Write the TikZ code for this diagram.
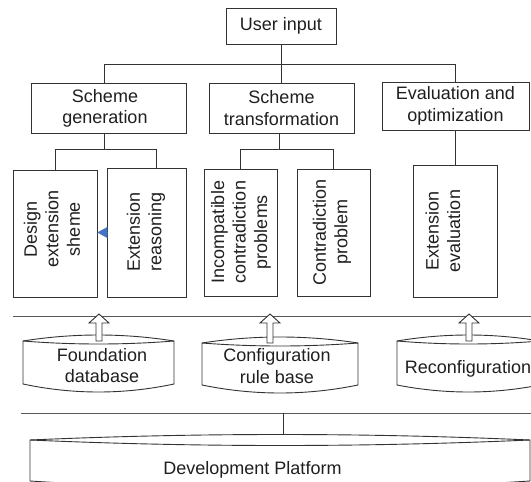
\documentclass[tikz,border=0pt]{standalone}
\usepackage{fontspec}
\setmainfont{Liberation Sans}
\usetikzlibrary{arrows.meta,calc}
\definecolor{tri}{RGB}{68,114,196}
% cylinder outline: x1 x2 ytop ybottom upperbulge lowerbulge bottombulge
\newcommand\mycyl[7]{%
  \draw[ln, fill=white] (#1,#3) .. controls ({#1+(#2-#1)/3},{#3-#5*4/3}) and ({#2-(#2-#1)/3},{#3-#5*4/3}) .. (#2,#3)
     -- (#2,#4) .. controls ({#2-(#2-#1)/3},{#4+#7*4/3}) and ({#1+(#2-#1)/3},{#4+#7*4/3}) .. (#1,#4) -- cycle;
  \draw[ln] (#1,#3) .. controls ({#1+(#2-#1)/3},{#3+#6*4/3}) and ({#2-(#2-#1)/3},{#3+#6*4/3}) .. (#2,#3);}
% hollow up arrow: x, bottom y
\newcommand\hollowup[2]{%
  \draw[ln, fill=white] ({#1-3},#2) -- ({#1-3},323) -- ({#1-10},323) -- (#1,314) -- ({#1+10},323) -- ({#1+3},323) -- ({#1+3},#2) -- cycle;}
\begin{document}
\begin{tikzpicture}[x=1pt,y=-1pt,
  ln/.style={draw=black!80, line width=0.9pt},
  sep/.style={draw=black!65, line width=0.9pt},
  box/.style={ln, rectangle, inner sep=0pt},
  txt/.style={font=\fontsize{18}{21.5}\selectfont, text=black!88, align=center, inner sep=0pt},
  vtxt/.style={txt, rotate=90}]
\useasboundingbox (0,0) rectangle (531,482);
\clip (0,0) rectangle (531,482);

% top level
\node[box, txt, minimum width=110pt, minimum height=35.5pt] (ui) at (281,26.25) {User input};
\node[box, minimum width=154.5pt, minimum height=49.5pt] (sg) at (108.75,108.25) {};
\node[txt] (sgt) at (105,108.5) {Scheme\\generation};
\node[box, txt, minimum width=145pt, minimum height=49.5pt] (st) at (281.5,108.25) {Scheme\\transformation};
\node[box, txt, minimum width=147pt, minimum height=48pt] (eo) at (455.5,106) {Evaluation and\\optimization};

% lower boxes
\node[box, minimum width=84pt, minimum height=127pt] (ds) at (55,233.5) {};
\node[vtxt] (dst) at (52,229) {Design\\extension\\sheme};
\node[box, minimum width=79pt, minimum height=129pt] (rs) at (146.5,232.5) {};
\node[vtxt] (rst) at (146,232) {Extension\\reasoning};
\node[box, minimum width=73pt, minimum height=127pt] (ic) at (240.5,232.5) {};
\node[vtxt] (ict) at (241,232) {Incompatible\\contradiction\\problems};
\node[box, minimum width=73pt, minimum height=127pt] (cp) at (333.5,232.5) {};
\node[vtxt] (cpt) at (332,232) {Contradiction\\problem};
\node[box, minimum width=84pt, minimum height=132pt] (ee) at (455,231) {};
\node[vtxt] (eet) at (443,231) {Extension\\evaluation};

% connectors
\draw[ln] (ui.south) -- ++(0,20) coordinate (j0);
\draw[ln] ([xshift=-4.25pt]sg.north) |- (eo.north |- j0) -- (eo.north);
\draw[ln] (j0) -- (j0 |- st.north);
\draw[ln] ([xshift=-4.25pt]sg.south) -- ++(0,15.5) coordinate (j1);
\draw[ln] (ds.north) |- (j1) -| ([xshift=9.5pt]rs.north);
\draw[ln] ([xshift=-2pt]st.south) -- ++(0,15.5) coordinate (j2);
\draw[ln] (ic.north) |- (j2) -| (cp.north);
\draw[ln] (eo.south) -- (eo.south |- ee.north);
\draw[-{Triangle[length=10pt,width=11pt]}, draw=tri, fill=tri, line width=0.1pt] (rs.west) -- (ds.east |- rs.west);

% separators
\coordinate (s1l) at (13,316); \coordinate (s1r) at (531,316);
\coordinate (s2l) at (21,413); \coordinate (s2r) at (531,413);
\draw[sep] (s1l) -- (s1r);
\draw[sep] (s2l) -- (s2r);

% databases
\mycyl{23}{174}{341}{384}{6}{3}{8}
\mycyl{202}{358}{343}{385}{6}{3}{8}
\mycyl{397}{540}{341}{385}{6}{3}{7}
\mycyl{30}{530}{440}{481}{5.5}{5.5}{8}
\node[txt] (fdb) at (102,365.7) {Foundation\\database};
\node[txt] (crb) at (277,366) {Configuration\\rule base};
\node[txt] (rcf) at (468,369) {Reconfiguration};
\node[txt] (dp) at (252.5,469.4) {Development Platform};

\hollowup{99}{341}
\hollowup{270}{343}
\hollowup{469}{341}

\coordinate (dptop) at (283,434.7);
\draw[ln] (dptop |- s2l) -- (dptop);
\end{tikzpicture}
\end{document}
